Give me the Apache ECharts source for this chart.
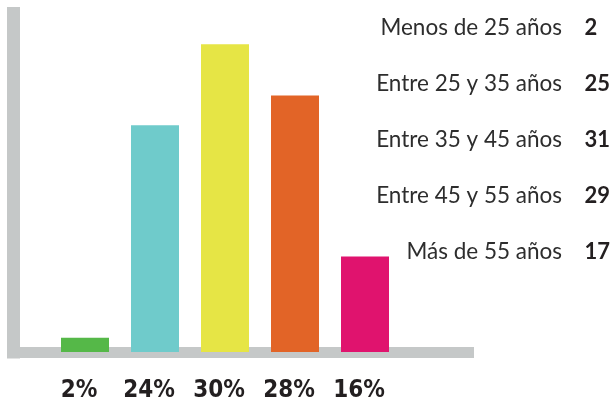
<!DOCTYPE html>
<html>
<head>
<meta charset="utf-8">
<script src="https://cdn.jsdelivr.net/npm/echarts@6/dist/echarts.min.js"></script>
<style>
  html, body { margin: 0; padding: 0; background: #fff; }
  #chart { width: 613px; height: 411px; }
</style>
</head>
<body>
<div id="chart"></div>
<script>
// age groups and how many people in each
const ageGroups = ["Menos de 25 años", "Entre 25 y 35 años", "Entre 35 y 45 años", "Entre 45 y 55 años", "Más de 55 años"];
const counts = [2, 25, 31, 29, 17];
const percentLabels = ["2%", "24%", "30%", "28%", "16%"];
// bar heights as drawn in the picture (percent scale)
const barValues = [1.4, 22.1, 30, 25, 9.3];
const barColors = ["#55b848", "#6fcbcb", "#e6e545", "#e26427", "#e0136e"];

const axisGray = "#c5c8c8";
const textColor = "#2d2d2d";

const chart = echarts.init(document.getElementById("chart"));

const option = {
  backgroundColor: "#fff",
  animation: false,
  grid: [
    // frame (the thick gray L)
    { left: 13.5, top: 13.5, right: 144.5, bottom: 59 },
    // bars
    { left: 50, top: 13.5, width: 350, bottom: 59 },
    // right side list
    { left: 570, top: -8, width: 9, height: 288 }
  ],
  xAxis: [
    {
      gridIndex: 0, type: "value", min: 0, max: 1, offset: 5.5,
      axisLine: { show: true, lineStyle: { color: axisGray, width: 11, cap: "square" } },
      axisTick: { show: false }, axisLabel: { show: false }, splitLine: { show: false }
    },
    {
      gridIndex: 1, type: "category", data: ageGroups,
      axisLine: { show: false }, axisTick: { show: false },
      axisLabel: {
        interval: 0,
        margin: 27,
        padding: [0, 12, 0, 0],
        fontFamily: "'DejaVu Sans Condensed', 'Roboto'",
        fontWeight: "bold",
        fontSize: 24,
        color: "#231f20",
        formatter: (v, i) => percentLabels[i]
      }
    },
    { gridIndex: 2, type: "value", show: false }
  ],
  yAxis: [
    {
      gridIndex: 0, type: "value", min: 0, max: 1,
      axisLine: { show: true, lineStyle: { color: axisGray, width: 13, cap: "square" } },
      axisTick: { show: false }, axisLabel: { show: false }, splitLine: { show: false }
    },
    {
      gridIndex: 1, type: "value", min: 0, max: 33, show: false
    },
    {
      gridIndex: 2, type: "category", position: "left", inverse: true, data: ageGroups,
      axisLine: { show: false }, axisTick: { show: false },
      axisLabel: { margin: 8, fontFamily: "Lato", fontSize: 22.5, color: textColor }
    },
    {
      gridIndex: 2, type: "category", position: "right", inverse: true,
      data: counts.map(String),
      axisLine: { show: false }, axisTick: { show: false },
      axisLabel: { margin: 8, fontFamily: "Lato", fontWeight: "bold", fontSize: 22, color: "#231f20" }
    }
  ],
  series: [
    {
      type: "bar",
      xAxisIndex: 1,
      yAxisIndex: 1,
      barWidth: 48,
      data: barValues.map((v, i) => ({ value: v, itemStyle: { color: barColors[i] } }))
    }
  ]
};

chart.setOption(option);
</script>
</body>
</html>
